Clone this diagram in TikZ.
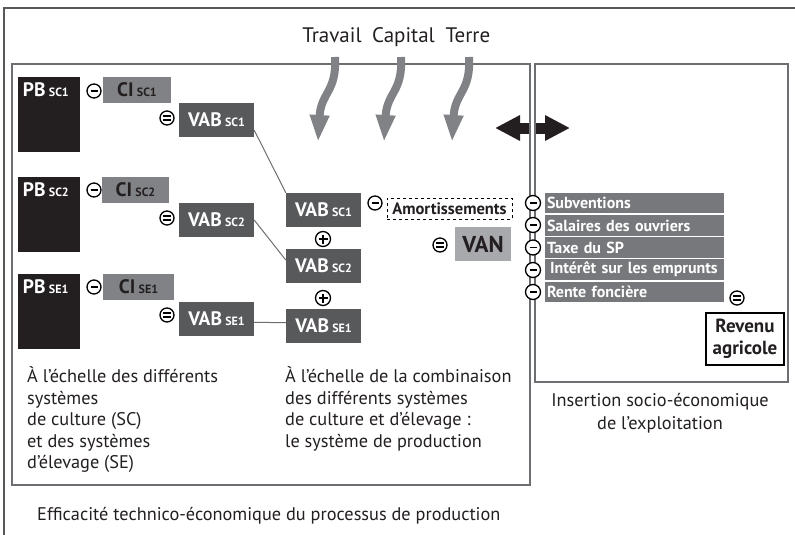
\documentclass[tikz,border=0pt]{standalone}
\usepackage{fontspec}
\setmainfont{PT Sans}
\usetikzlibrary{arrows.meta}
\definecolor{pbc}{HTML}{231F20}
\definecolor{cic}{HTML}{808285}
\definecolor{vabc}{HTML}{58595B}
\definecolor{vanc}{HTML}{A7A9AC}
\definecolor{barc}{HTML}{77787B}
\definecolor{arrc}{HTML}{808285}
\definecolor{framec}{HTML}{6D6E71}
\definecolor{txtc}{HTML}{231F20}
\newcommand{\boxlab}[2]{{\fontsize{19.5}{19.5}\selectfont\bfseries #1\,{\fontsize{12}{12}\selectfont #2}}}
\begin{document}
\begin{tikzpicture}[x=1pt,y=-1pt,
  pbbox/.style={fill=pbc, minimum width=62, minimum height=75, inner sep=0},
  cibox/.style={fill=cic, text=txtc, minimum height=26, inner sep=0},
  vabbox/.style={fill=vabc, text=white, minimum width=75, minimum height=34, inner sep=0},
  barbox/.style={fill=barc, text=white, minimum width=179, minimum height=20.5, inner sep=0, text width=175, align=left, font=\fontsize{16}{16}\selectfont\bfseries},
  symb/.style={circle, draw=black, fill=white, line width=1.3, minimum size=14, inner sep=0},
  minus/.style={symb, path picture={\draw[line width=1.5] ([xshift=-3.5]path picture bounding box.center) -- ([xshift=3.5]path picture bounding box.center);}},
  equal/.style={symb, path picture={\draw[line width=1.4] ([xshift=-4,yshift=1.9]path picture bounding box.center) -- ([xshift=4,yshift=1.9]path picture bounding box.center) ([xshift=-4,yshift=-1.9]path picture bounding box.center) -- ([xshift=4,yshift=-1.9]path picture bounding box.center);}},
  plus/.style={symb, minimum size=15, path picture={\draw[line width=1.4] ([xshift=-4.5]path picture bounding box.center) -- ([xshift=4.5]path picture bounding box.center) ([yshift=-4.5]path picture bounding box.center) -- ([yshift=4.5]path picture bounding box.center);}},
  frame/.style={draw=framec, line width=1.3},
  link/.style={draw=framec, line width=1},
  wave/.style={draw=arrc, line width=8, -{Triangle[length=27pt,width=18pt]}},
  body/.style={text=txtc, font=\fontsize{18.3}{21.5}\selectfont, inner sep=0, align=left}
]
\useasboundingbox (0,0) rectangle (795,535);
% outer frame
\draw[draw=framec!80!black, line width=1.6] (795,8) -- (4,8) -- (4,535);
% double arrow (behind frames)
\coordinate (dl) at (495,128);
\coordinate (dr) at (570,128);
\draw[line width=11, draw=pbc, {Triangle[length=25pt,width=24pt]}-{Triangle[length=25pt,width=24pt]}] (dl) -- (dr);
\fill[white] (530.5,121) rectangle (535.5,135);
% frames
\draw[frame] (12,64) rectangle (530,485);
\draw[frame] (535,64) rectangle (788,382);
% inputs
\node[text=txtc, font=\fontsize{21}{21}\selectfont, inner sep=0, anchor=base] (trav) at (332,43) {Travail};
\node[text=txtc, font=\fontsize{21}{21}\selectfont, inner sep=0, anchor=base] (capi) at (403.5,43) {Capital};
\node[text=txtc, font=\fontsize{21}{21}\selectfont, inner sep=0, anchor=base] (terr) at (468,43) {Terre};
\coordinate (a1s) at (335,57); \coordinate (a1e) at (318,142);
\coordinate (a2s) at (401,57); \coordinate (a2e) at (384,142);
\coordinate (a3s) at (469,57); \coordinate (a3e) at (452,142);
\draw[wave] (a1s) .. controls (337,92) and (321,92) .. (a1e);
\draw[wave] (a2s) .. controls (403,92) and (387,92) .. (a2e);
\draw[wave] (a3s) .. controls (471,92) and (455,92) .. (a3e);
% PB boxes
\node[pbbox, label={[anchor=north west, inner sep=0, text=white, xshift=5, yshift=-6]north west:\boxlab{PB}{SC1}}] (pb1) at (49,114.5) {};
\node[pbbox, label={[anchor=north west, inner sep=0, text=white, xshift=5, yshift=-6]north west:\boxlab{PB}{SC2}}] (pb2) at (49,214.5) {};
\node[pbbox, label={[anchor=north west, inner sep=0, text=white, xshift=5, yshift=-6]north west:\boxlab{PB}{SE1}}] (pb3) at (49,311) {};
% CI boxes
\node[cibox, minimum width=68] (ci1) at (137,90) {\boxlab{CI}{SC1}};
\node[cibox, minimum width=67] (ci2) at (135.5,190) {\boxlab{CI}{SC2}};
\node[cibox, minimum width=71] (ci3) at (138.5,287) {\boxlab{CI}{SE1}};
\node[minus] (m1) at (94,91) {};
\node[minus] (m2) at (94,190) {};
\node[minus] (m3) at (94,287) {};
% VAB left
\node[vabbox] (vl1) at (216.5,120) {\boxlab{VAB}{SC1}};
\node[vabbox] (vl2) at (216.5,220) {\boxlab{VAB}{SC2}};
\node[vabbox] (vl3) at (216.5,319) {\boxlab{VAB}{SE1}};
\node[equal] (e1) at (167,118) {};
\node[equal] (e2) at (167,218) {};
\node[equal] (e3) at (167,315) {};
% VAB middle
\node[vabbox] (vm1) at (323.5,210) {\boxlab{VAB}{SC1}};
\node[vabbox] (vm2) at (323.5,266) {\boxlab{VAB}{SC2}};
\node[vabbox] (vm3) at (323.5,326) {\boxlab{VAB}{SE1}};
\node[plus] (p1) at (323,239) {};
\node[plus] (p2) at (323,298) {};
\draw[link] (vl1.-15) -- (vm1.north west);
\draw[link] (vl2.east) -- (vm2.171);
\draw[link] (vl3.-5) -- (vm3.175);
% amortissements, VAN
\node[minus] (m4) at (375,203) {};
\node[draw=black, dashed, line width=0.8, minimum width=125, minimum height=21, inner sep=0, text=txtc, font=\fontsize{16.5}{16.5}\selectfont\bfseries] (amo) at (449.5,208.5) {Amortissements};
\node[equal] (e4) at (440,245) {};
\node[fill=vanc, text=txtc, minimum width=56, minimum height=34, inner sep=0, font=\fontsize{23}{23}\selectfont\bfseries] (van) at (483,244) {VAN};
% right bars
\node[barbox] (b1) at (634.5,203) {Subventions};
\node[barbox] (b2) at (634.5,225.5) {Salaires des ouvriers};
\node[barbox] (b3) at (634.5,247.5) {Taxe du SP};
\node[barbox] (b4) at (634.5,269.5) {\hspace{3pt}Intérêt sur les emprunts};
\node[barbox] (b5) at (634.5,292) {Rente foncière};
\node[minus, minimum width=15, minimum height=14] (r1) at (533,203) {};
\node[minus, minimum width=15, minimum height=14] (r2) at (533,225) {};
\node[minus, minimum width=15, minimum height=14] (r3) at (533,247.5) {};
\node[minus, minimum width=15, minimum height=14] (r4) at (533,270) {};
\node[minus, minimum width=15, minimum height=14] (r5) at (533,292) {};
\node[equal] (e5) at (737,298) {};
\node[draw=black, line width=1.2, fill=white, minimum width=78, minimum height=52, inner sep=0, align=center, text=txtc, font=\fontsize{19}{22}\selectfont\bfseries] (rev) at (745,339) {Revenu\\agricole};
% texts
\node[body, anchor=north west] (t1) at (27,366.5) {À l’échelle des différents\\systèmes\\de culture (SC)\\et des systèmes\\d’élevage (SE)};
\node[body, anchor=north west] (t2) at (285,366.5) {À l’échelle de la combinaison\\des différents systèmes\\de culture et d’élevage :\\le système de production};
\node[body, anchor=north, align=center, font=\fontsize{18.3}{23}\selectfont] (t3) at (660,393.5) {Insertion socio-économique\\de l’exploitation};
\node[body, anchor=north west] (t4) at (37,507) {Efficacité technico-économique du processus de production};
\end{tikzpicture}
\end{document}
